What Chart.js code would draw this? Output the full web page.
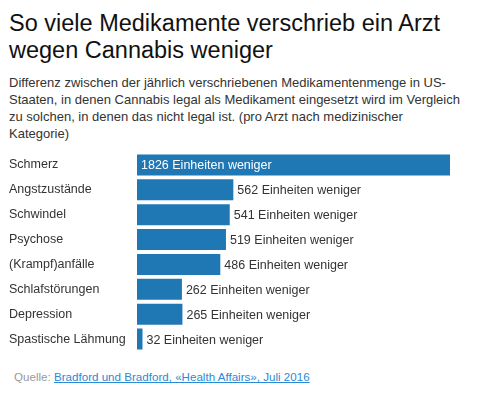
<!DOCTYPE html>
<html>
<head>
<meta charset="utf-8">
<script src="https://cdn.jsdelivr.net/npm/chart.js@4"></script>
<style>
  body { margin: 0; background: #fff; font-family: "Liberation Sans", Arial, sans-serif; }
  #wrap { position: relative; width: 500px; height: 396px; overflow: hidden; }
  h1 { position: absolute; left: 9px; top: 10px; margin: 0; font-size: 23.5px; font-weight: normal; line-height: 27px; color: #111; width: 485px; }
  .sub { position: absolute; left: 9px; top: 74px; margin: 0; font-size: 13px; line-height: 17px; color: #333; width: 455px; }
  #chartbox { position: absolute; left: 0; top: 145px; width: 500px; height: 214px; }
  .src { position: absolute; left: 14px; top: 370px; font-size: 11.6px; color: #999; }
  .src a { color: #2a8ad4; text-decoration: underline; }
</style>
</head>
<body>
<div id="wrap">
  <h1>So viele Medikamente verschrieb ein Arzt wegen Cannabis weniger</h1>
  <p class="sub">Differenz zwischen der jährlich verschriebenen Medikamentenmenge in US-Staaten, in denen Cannabis legal als Medikament eingesetzt wird im Vergleich zu solchen, in denen das nicht legal ist. (pro Arzt nach medizinischer Kategorie)</p>
  <div id="chartbox"><canvas id="bar_chart"></canvas></div>
  <div class="src">Quelle: <a href="#">Bradford und Bradford, «Health Affairs», Juli 2016</a></div>
</div>
<script>
var categories = ["Schmerz", "Angstzustände", "Schwindel", "Psychose", "(Krampf)anfälle",
                  "Schlafstörungen", "Depression", "Spastische Lähmung"]
var values = [1826, 562, 541, 519, 486, 262, 265, 32]

// labels after (or inside) the bars
const valueLabels = {
  id: "valueLabels",
  afterDatasetsDraw(chart) {
    var ctx = chart.ctx
    var meta = chart.getDatasetMeta(0)
    ctx.save()
    ctx.font = "12.5px 'Liberation Sans', Arial, sans-serif"
    ctx.textBaseline = "middle"
    meta.data.forEach((bar, i) => {
      var txt = values[i] + " Einheiten weniger"
      if (values[i] > 1000) {
        ctx.fillStyle = "#fff"
        ctx.fillText(txt, bar.base + 4, bar.y + 1)
      } else {
        ctx.fillStyle = "#333"
        ctx.fillText(txt, bar.x + 4, bar.y + 1)
      }
    })
    ctx.restore()
  }
}

const renderChart = () => {
  var ctx = document.getElementById("bar_chart").getContext("2d")
  new Chart(ctx, {
    type: "bar",
    data: {
      labels: categories,
      datasets: [{
        data: values,
        backgroundColor: "#1f77b4",
        categoryPercentage: 1,
        barPercentage: 0.84,
      }],
    },
    options: {
      indexAxis: "y",
      responsive: true,
      maintainAspectRatio: false,
      animation: false,
      layout: { padding: { left: 9, right: 50, top: 0, bottom: 0 } },
      plugins: { legend: { display: false }, tooltip: { enabled: false } },
      scales: {
        x: { display: false, min: 0, max: 1826 },
        y: {
          grid: { display: false },
          border: { display: false },
          afterFit: (scale) => { scale.width = 128 },
          ticks: {
            crossAlign: "far",
            padding: 0,
            color: "#333",
            font: { family: "'Liberation Sans', Arial, sans-serif", size: 12.5 },
          },
        },
      },
    },
    plugins: [valueLabels],
  })
}
renderChart()
</script>
</body>
</html>
